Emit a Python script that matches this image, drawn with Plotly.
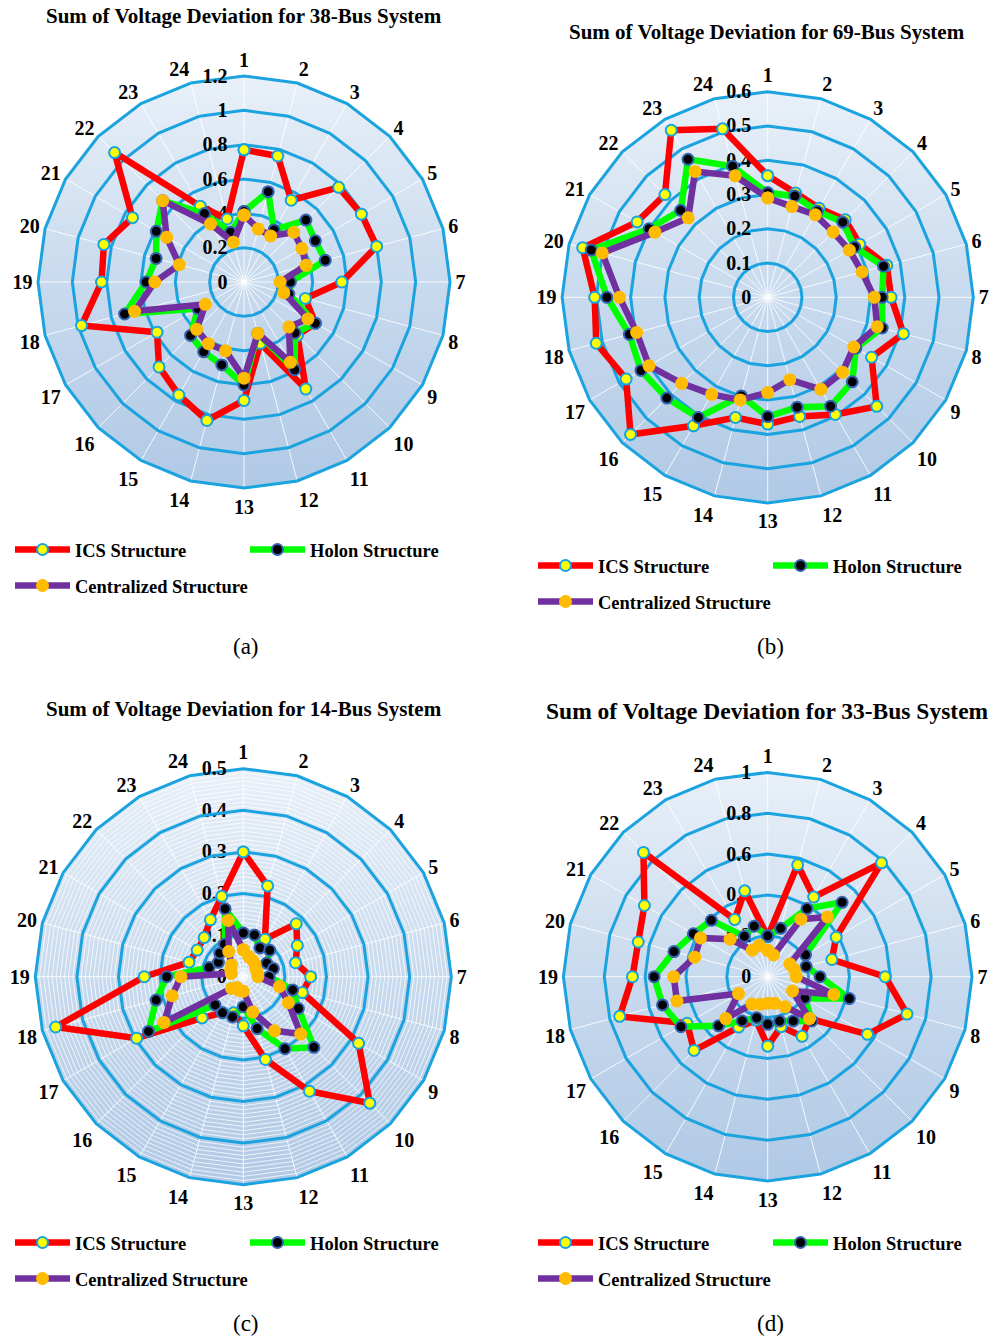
import math
import plotly.graph_objects as go

W, H = 993, 1336
FONT = "Liberation Serif"
BLUE = "#1aa3df"

categories = [str(i) for i in range(1, 25)]

# ---- (a) 38-bus ----
ics_a = [0.77, 0.76, 0.55, 0.78, 0.79, 0.80, 0.57, 0.37, 0.48, 0.44, 0.72, 0.37,
         0.69, 0.835, 0.76, 0.70, 0.585, 0.98, 0.83, 0.845, 0.75, 1.066, 0.51, 0.38]
holon_a = [0.41, 0.545, 0.35, 0.51, 0.48, 0.49, 0.27, 0.27, 0.48, 0.42, 0.59, 0.31,
           0.60, 0.50, 0.47, 0.44, 0.31, 0.72, 0.57, 0.53, 0.59, 0.67, 0.46, 0.30]
cent_a = [0.39, 0.32, 0.31, 0.41, 0.39, 0.375, 0.21, 0.24, 0.43, 0.37, 0.54, 0.31,
          0.56, 0.415, 0.415, 0.39, 0.26, 0.66, 0.52, 0.39, 0.52, 0.67, 0.39, 0.24]

# ---- (b) 69-bus ----
ics_b = [0.355, 0.315, 0.30, 0.32, 0.31, 0.36, 0.36, 0.41, 0.35, 0.45, 0.395, 0.36,
         0.37, 0.363, 0.433, 0.566, 0.477, 0.518, 0.505, 0.559, 0.44, 0.424, 0.563, 0.509]
holon_b = [0.305, 0.306, 0.29, 0.31, 0.293, 0.35, 0.334, 0.346, 0.297, 0.349, 0.367, 0.332,
           0.348, 0.298, 0.405, 0.416, 0.427, 0.418, 0.469, 0.533, 0.40, 0.359, 0.465, 0.396]
cent_b = [0.29, 0.274, 0.278, 0.27, 0.275, 0.285, 0.311, 0.331, 0.29, 0.309, 0.31, 0.249,
          0.278, 0.31, 0.327, 0.355, 0.40, 0.396, 0.433, 0.50, 0.38, 0.328, 0.424, 0.367]

# ---- (c) 14-bus ----
ics_c = [0.30, 0.226, 0.104, 0.18, 0.15, 0.13, 0.162, 0.147, 0.32, 0.43, 0.318, 0.206,
         0.118, 0.09, 0.10, 0.14, 0.296, 0.467, 0.238, 0.135, 0.128, 0.133, 0.158, 0.20]
holon_c = [0.105, 0.104, 0.08, 0.09, 0.065, 0.075, 0.062, 0.123, 0.153, 0.24, 0.20, 0.129,
           0.072, 0.10, 0.10, 0.096, 0.263, 0.217, 0.184, 0.085, 0.069, 0.08, 0.09, 0.169]
cent_c = [0.065, 0.05, 0.045, 0.04, 0.035, 0.035, 0.035, 0.09, 0.125, 0.195, 0.15, 0.088,
          0.035, 0.035, 0.03, 0.04, 0.22, 0.177, 0.15, 0.03, 0.035, 0.04, 0.07, 0.14]

# ---- (d) 33-bus ----
ics_d = [0.196, 0.567, 0.45, 0.788, 0.387, 0.325, 0.575, 0.706, 0.564, 0.29, 0.337, 0.253,
         0.34, 0.22, 0.285, 0.51, 0.456, 0.75, 0.662, 0.656, 0.697, 0.86, 0.323, 0.435]
holon_d = [0.20, 0.245, 0.385, 0.515, 0.214, 0.195, 0.256, 0.414, 0.21, 0.306, 0.25, 0.225,
           0.233, 0.208, 0.25, 0.34, 0.49, 0.533, 0.556, 0.475, 0.42, 0.39, 0.228, 0.256]
cent_d = [0.13, 0.11, 0.325, 0.414, 0.125, 0.135, 0.14, 0.335, 0.14, 0.29, 0.17, 0.135,
          0.13, 0.14, 0.155, 0.29, 0.165, 0.46, 0.46, 0.37, 0.38, 0.26, 0.15, 0.16]

titles = ["Sum of Voltage Deviation for 38-Bus System",
          "Sum of Voltage Deviation for 69-Bus System",
          "Sum of Voltage Deviation for 14-Bus System",
          "Sum of Voltage Deviation for 33-Bus System"]
panel_labels = ["(a)", "(b)", "(c)", "(d)"]
series_names = ["ICS Structure", "Holon Structure", "Centralized Structure"]
rmax = [1.2, 0.6, 0.5, 1.0]
rstep = [0.2, 0.1, 0.1, 0.2]

data = [(ics_a, holon_a, cent_a), (ics_b, holon_b, cent_b),
        (ics_c, holon_c, cent_c), (ics_d, holon_d, cent_d)]

# pixel geometry of each radar (center x, center y, radius)
geom = [(244.0, 282.0, 206.0), (767.7, 297.3, 205.6),
        (243.3, 976.7, 208.0), (767.7, 976.7, 204.3)]

styles = [
    dict(line=dict(color="#ff0000", width=6.5),
         marker=dict(color="#ffff00", size=11, line=dict(color="#16a4e0", width=2))),
    dict(line=dict(color="#00ff00", width=6.5),
         marker=dict(color="#000000", size=11, line=dict(color="#3563b0", width=2))),
    dict(line=dict(color="#7030a0", width=6.5),
         marker=dict(color="#ffbb00", size=13, line=dict(width=0))),
]
bg_scale = [[0, "#b0c9e5"], [0.5, "#c8daee"], [1, "#e9f0f8"]]

fig = go.Figure()
bold = dict(family=FONT, size=20, color="black", weight="bold")
legfont = dict(family=FONT, size=18.5, color="black", weight="bold")

# unit 24-gon outline used for the gradient background of each radar
n = len(categories)
gon_x = [math.sin(2 * math.pi * i / n) for i in range(n + 1)]
gon_y = [math.cos(2 * math.pi * i / n) for i in range(n + 1)]

for k in range(4):
    pid = "polar" if k == 0 else f"polar{k+1}"
    sub = pid
    cx, cy, R = geom[k]
    dom_x = [(cx - R) / W, (cx + R) / W]
    dom_y = [1 - (cy + R) / H, 1 - (cy - R) / H]

    # gradient background (cartesian layer sits beneath the polar layer)
    xa = "x" if k == 0 else f"x{k+1}"
    ya = "y" if k == 0 else f"y{k+1}"
    fig.add_trace(go.Scatter(x=gon_x, y=gon_y, xaxis=xa, yaxis=ya, mode="lines",
                             line=dict(width=0), fill="toself",
                             fillgradient=dict(type="vertical", colorscale=bg_scale),
                             showlegend=False, hoverinfo="skip"))
    axkey = "" if k == 0 else str(k + 1)
    fig.update_layout(**{
        f"xaxis{axkey}": dict(domain=dom_x, range=[-1, 1], visible=False, fixedrange=True,
                              anchor=ya),
        f"yaxis{axkey}": dict(domain=dom_y, range=[-1, 1], visible=False, fixedrange=True,
                              anchor=xa),
    })

    nmaj = int(round(rmax[k] / rstep[k]))
    major = [round(i * rstep[k], 3) for i in range(nmaj + 1)]
    if k == 2:
        # 14-bus chart: dense white minor rings, blue major rings drawn as traces
        tickvals = [round(i * 0.01, 3) for i in range(51)]
        ticktext = [(f"{v:g}" if abs(v * 10 - round(v * 10)) < 1e-9 else "") for v in tickvals]
        rad = dict(tickvals=tickvals, ticktext=ticktext,
                   gridcolor="rgba(255,255,255,0.75)", gridwidth=1)
        for v in major[1:-1]:
            fig.add_trace(go.Scatterpolar(
                r=[v] * (n + 1), theta=categories + categories[:1],
                mode="lines", line=dict(color=BLUE, width=3), subplot=sub,
                showlegend=False, hoverinfo="skip"))
    else:
        rad = dict(tickvals=major, ticktext=[f"{v:g}" for v in major],
                   gridcolor=BLUE, gridwidth=3)

    polar = dict(
        domain=dict(x=dom_x, y=dom_y),
        bgcolor="rgba(0,0,0,0)",
        gridshape="linear",
        radialaxis=dict(range=[0, rmax[k]], showline=False, ticks="outside", ticklen=9,
                        tickcolor="rgba(0,0,0,0)", angle=90,
                        tickangle=90, side="counterclockwise", layer="below traces",
                        tickfont=bold, **rad),
        angularaxis=dict(type="category", categoryarray=categories,
                         direction="clockwise", rotation=90, showline=True,
                         linecolor=BLUE, linewidth=3, gridcolor="rgba(255,255,255,0.85)",
                         gridwidth=1, ticks="", tickfont=bold, layer="below traces"),
    )
    fig.update_layout(**{pid: polar})

    lg1 = f"legend{2*k+1}" if k > 0 else "legend"
    lg2 = f"legend{2*k+2}"
    for s in range(3):
        vals = data[k][s]
        fig.add_trace(go.Scatterpolar(
            r=vals + vals[:1], theta=categories + categories[:1],
            mode="lines+markers", name=series_names[s], subplot=sub,
            legend=(lg1 if s < 2 else lg2), **styles[s]))

    # legends
    left = 10 if k in (0, 2) else 533
    row1 = 550 if k == 0 else (566 if k == 1 else 1243)
    fig.update_layout(**{
        lg1: dict(orientation="h", x=left / W, xanchor="left",
                  y=1 - row1 / H, yanchor="middle", entrywidth=165,
                  font=legfont, bgcolor="rgba(0,0,0,0)", itemwidth=55),
        lg2: dict(orientation="h", x=left / W, xanchor="left",
                  y=1 - (row1 + 36) / H, yanchor="middle",
                  font=legfont, bgcolor="rgba(0,0,0,0)", itemwidth=55),
    })

# titles and panel labels
title_pos = [(244, 16, 21), (767, 32, 21), (244, 709, 21), (767, 711, 23.5)]
label_pos = [(246, 647), (770, 647), (246, 1323), (770, 1323)]
ann = []
for k in range(4):
    tx, ty, ts = title_pos[k]
    ann.append(dict(text=titles[k], x=tx / W, y=1 - ty / H, xref="paper", yref="paper",
                    xanchor="center", yanchor="middle", showarrow=False,
                    font=dict(family=FONT, size=ts, color="black", weight="bold")))
    lx, ly = label_pos[k]
    ann.append(dict(text=panel_labels[k], x=lx / W, y=1 - ly / H, xref="paper", yref="paper",
                    xanchor="center", yanchor="middle", showarrow=False,
                    font=dict(family=FONT, size=23, color="black")))

fig.update_layout(width=W, height=H,
                  margin=dict(l=0, r=0, t=0, b=0, autoexpand=False),
                  paper_bgcolor="white", plot_bgcolor="rgba(0,0,0,0)", annotations=ann)

fig.write_html("out.html")
